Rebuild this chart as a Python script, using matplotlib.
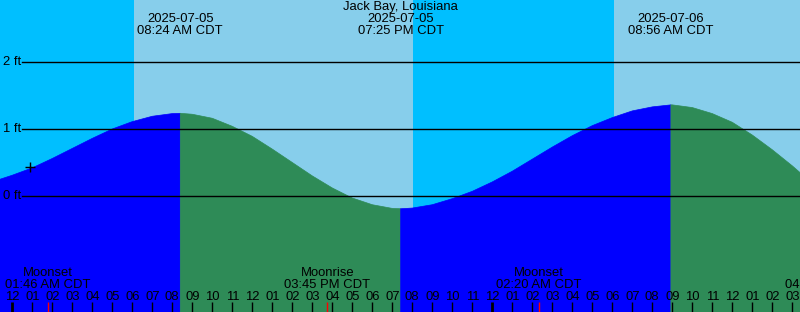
import numpy as np
from matplotlib import pyplot as plt

#%% Data (hours from midnight 2025-07-05, height in ft)
hours = [-0.615, 0, 1, 2, 3, 4, 5, 6, 7, 8, 8.4,
         9, 10, 11, 12, 13, 14, 15, 16, 17, 18, 19, 19.42,
         20, 21, 22, 23, 24, 25, 26, 27, 28, 29, 30, 31, 32, 32.93,
         33, 34, 35, 36, 37, 38, 39, 39.385]
heights = [0.25, 0.31, 0.42, 0.56, 0.71, 0.86, 1.00, 1.11, 1.19, 1.23, 1.234,
           1.22, 1.16, 1.04, 0.89, 0.70, 0.50, 0.30, 0.12, -0.03, -0.13, -0.185, -0.19,
           -0.18, -0.13, -0.04, 0.07, 0.21, 0.37, 0.55, 0.73, 0.90, 1.05, 1.17, 1.27, 1.33, 1.36,
           1.36, 1.32, 1.23, 1.10, 0.91, 0.69, 0.45, 0.35]

# tide extremes (top labels)
tide_times = [8.4, 19.42, 32.93]
tide_dates = ['2025-07-05', '2025-07-05', '2025-07-06']
tide_labels = ['08:24 AM CDT', '07:25 PM CDT', '08:56 AM CDT']

# sunrise / sunset
sun_times = [6.08, 20.03, 30.08]

# moon events (bottom labels)
moon_times = [1.767, 15.75, 26.333, 40.8]
moon_names = ['Moonset', 'Moonrise', 'Moonset', 'Moonrise']
moon_labels = ['01:46 AM CDT', '03:45 PM CDT', '02:20 AM CDT', '04:48 PM CDT']

now_hour, now_height = 0.88, 0.44
levels = [0, 1, 2]
title = 'Jack Bay, Louisiana'

#%% Figure
plt.rcParams['font.family'] = ['Liberation Sans', 'DejaVu Sans']
fs = 9.4

fig = plt.figure(figsize=(8, 3.12), dpi=100)
ax = fig.add_axes([0, 0, 1, 1])
x0, x1 = -0.615, 39.385
ax.set_xlim(x0, x1)
ax.set_ylim(-1.731, 2.925)
ax.axis('off')

def yfrac(py):
    # pixel row -> axes fraction
    return 1 - py / 312

# night / day background
night, day = '#00BFFF', '#87CEEB'
edges = [x0] + sun_times + [x1]
for i in range(len(edges) - 1):
    ax.axvspan(edges[i], edges[i + 1], color=night if i % 2 == 0 else day, lw=0, zorder=0)

# tide curve, blue rising and green falling
t = np.array(hours)
h = np.array(heights)
bounds = [x0] + tide_times + [x1]
for i in range(len(bounds) - 1):
    m = (t >= bounds[i]) & (t <= bounds[i + 1])
    c = '#0000FF' if i % 2 == 0 else '#2E8B57'
    ax.fill_between(t[m], -5, h[m], facecolor=c, edgecolor=c, lw=0.5, zorder=1)

# level lines
for lv in levels:
    ax.axhline(lv, xmin=22 / 800, xmax=1, color='black', lw=1, zorder=2)
    ax.text(3 / 800, lv, '%d ft' % lv, transform=ax.get_yaxis_transform(),
            ha='left', va='center', fontsize=fs, zorder=3)

ax.plot(now_hour, now_height, '+', color='black', ms=7, mew=1, zorder=3)

# title and tide labels
tr = ax.get_xaxis_transform()
ax.text(0.5, yfrac(7), title, transform=ax.transAxes, ha='center', va='center', fontsize=fs)
for tt, d, lab in zip(tide_times, tide_dates, tide_labels):
    ax.text(tt, yfrac(19), d, transform=tr, ha='center', va='center', fontsize=fs)
    ax.text(tt, yfrac(31), lab, transform=tr, ha='center', va='center', fontsize=fs)

# moon labels and red ticks
for mt, name, lab in zip(moon_times, moon_names, moon_labels):
    ax.text(mt, yfrac(273), name, transform=tr, ha='center', va='center', fontsize=fs)
    ax.text(mt, yfrac(285), lab, transform=tr, ha='center', va='center', fontsize=fs)
    ax.vlines(mt, 0, yfrac(302), transform=tr, color='red', lw=1, zorder=4)

# hour ticks
for hr in range(0, 40):
    lab = '%02d' % ((hr % 12) or 12)
    ax.text(hr, yfrac(297), lab, transform=tr, ha='center', va='center', fontsize=fs)
    ax.vlines(hr, 0, yfrac(302), transform=tr, color='black',
              lw=2 if hr % 24 == 0 else 1, zorder=4)

fig.savefig('out.png', dpi=100)
